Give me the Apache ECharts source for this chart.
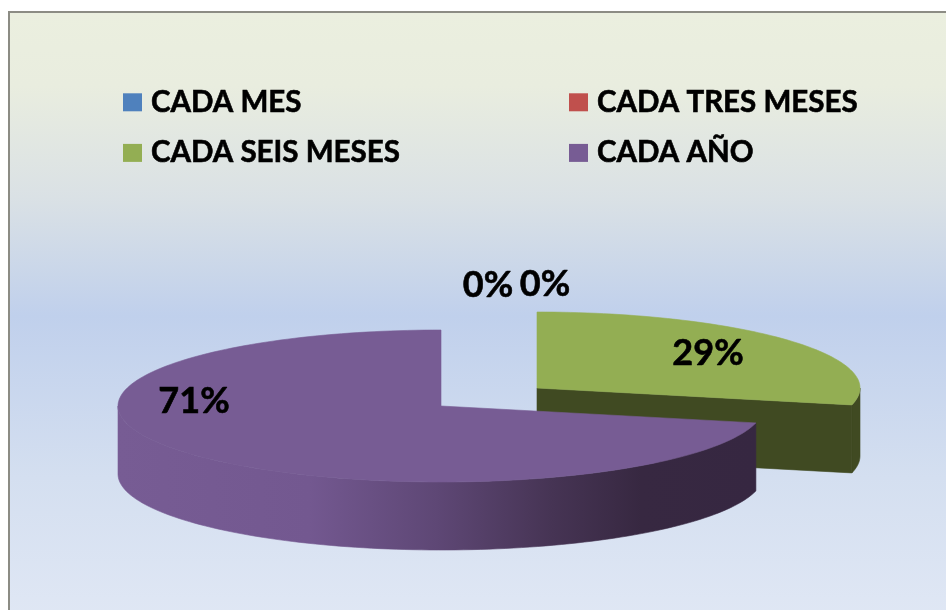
<!DOCTYPE html>
<html>
<head>
<meta charset="utf-8">
<script src="https://cdn.jsdelivr.net/npm/echarts@6/dist/echarts.min.js"></script>
<style>
  html, body { margin: 0; padding: 0; background: #fff; }
  #chart { width: 946px; height: 610px; }
</style>
</head>
<body>
<div id="chart"></div>
<script>
const categories = ["CADA MES", "CADA TRES MESES", "CADA SEIS MESES", "CADA AÑO"];
const values = [0, 0, 2, 5];

const topColors = ["#4F81BD", "#C0504D", "#93AE53", "#775C94"];
const sideColors = ["#2A4766", "#682B29", "#404A22", null];

// pie geometry, the flat ellipse of the 3d pie
const cx = 441, cy = 406, rx = 323, ry = 76, depth = 68;
const explode = [[0, 0], [0, 0], [96, -18], [0, 0]];
const labelSpots = [[488, 285], [545, 284], [708, 353], [194, 401]];

const total = values.reduce((a, b) => a + b, 0);

function pt(deg, ox, oy, dy) {
  const r = deg * Math.PI / 180;
  return [cx + ox + rx * Math.sin(r), cy + oy + dy - ry * Math.cos(r)];
}

function arc(from, to, ox, oy, dy) {
  const pts = [];
  const steps = Math.max(2, Math.ceil((to - from) / 1.5));
  for (let i = 0; i <= steps; i++) {
    pts.push(pt(from + (to - from) * i / steps, ox, oy, dy));
  }
  return pts;
}

function renderSlice(params, api) {
  const i = params.seriesIndex;
  const before = values.slice(0, i).reduce((a, b) => a + b, 0);
  const a0 = before / total * 360;
  const a1 = (before + api.value(0)) / total * 360;
  const ox = explode[i][0], oy = explode[i][1];
  const children = [];

  if (a1 > a0) {
    // outer wall, only the part that faces the viewer
    const f0 = Math.max(a0, 90), f1 = Math.min(a1, 270);
    const sideFill = sideColors[i] || new echarts.graphic.LinearGradient(0, 0, 1, 0, [
      { offset: 0, color: "#775C94" },
      { offset: 0.3, color: "#735890" },
      { offset: 0.5, color: "#5E4775" },
      { offset: 0.68, color: "#463454" },
      { offset: 0.82, color: "#372841" },
      { offset: 1, color: "#362741" }
    ]);
    if (f1 > f0) {
      const wall = arc(f0, f1, ox, oy, 0).concat(arc(f0, f1, ox, oy, depth).reverse());
      children.push({ type: "polygon", shape: { points: wall }, style: { fill: sideFill, stroke: sideFill, lineWidth: 0.6 } });
    }
    // cut face at the end of the slice
    if (a1 < 180) {
      const tip = pt(a1, ox, oy, 0), tipLow = pt(a1, ox, oy, depth);
      const face = [[cx + ox, cy + oy], tip, tipLow, [cx + ox, cy + oy + depth]];
      children.push({ type: "polygon", shape: { points: face }, style: { fill: sideColors[i], stroke: sideColors[i], lineWidth: 0.6 } });
    }
    const top = [[cx + ox, cy + oy]].concat(arc(a0, a1, ox, oy, 0));
    children.push({ type: "polygon", shape: { points: top }, style: { fill: topColors[i], stroke: topColors[i], lineWidth: 0.6 } });
  }

  children.push({
    type: "text",
    z2: 10,
    style: {
      x: labelSpots[i][0],
      y: labelSpots[i][1],
      text: Math.round(api.value(0) / total * 100) + "%",
      fill: "#000",
      stroke: "#000",
      lineWidth: 0.6,
      font: "bold 36px Lato",
      align: "center",
      verticalAlign: "middle"
    }
  });
  return { type: "group", children: children };
}

const legendBase = {
  orient: "vertical",
  top: 87,
  padding: 0,
  icon: "rect",
  itemWidth: 19,
  itemHeight: 18,
  itemGap: 20,
  selectedMode: false,
  textStyle: {
    color: "#000",
    fontFamily: "Lato",
    fontWeight: "bold",
    fontSize: 29.5,
    lineHeight: 30,
    textBorderColor: "#000",
    textBorderWidth: 0.6,
    padding: [0, 0, 0, 4]
  }
};

const chart = echarts.init(document.getElementById("chart"));
chart.setOption({
  animation: false,
  color: topColors,
  graphic: [{
    type: "rect",
    z: -10,
    silent: true,
    shape: { x: 9, y: 12, width: 960, height: 620 },
    style: {
      stroke: "#8C8C84",
      lineWidth: 2,
      fill: new echarts.graphic.LinearGradient(0, 0, 0, 1, [
        { offset: 0, color: "#EBEFDF" },
        { offset: 0.12, color: "#E9EDDF" },
        { offset: 0.3, color: "#DAE1E5" },
        { offset: 0.49, color: "#C0D0EC" },
        { offset: 0.75, color: "#D4DFF0" },
        { offset: 1, color: "#E1E8F5" }
      ])
    }
  }],
  legend: [
    Object.assign({}, legendBase, { left: 123, data: [categories[0], categories[2]] }),
    Object.assign({}, legendBase, { left: 569, data: [categories[1], categories[3]] })
  ],
  series: categories.map((name, i) => ({
    type: "custom",
    name: name,
    coordinateSystem: "none",
    silent: true,
    renderItem: renderSlice,
    data: [[values[i]]]
  }))
});
</script>
</body>
</html>
